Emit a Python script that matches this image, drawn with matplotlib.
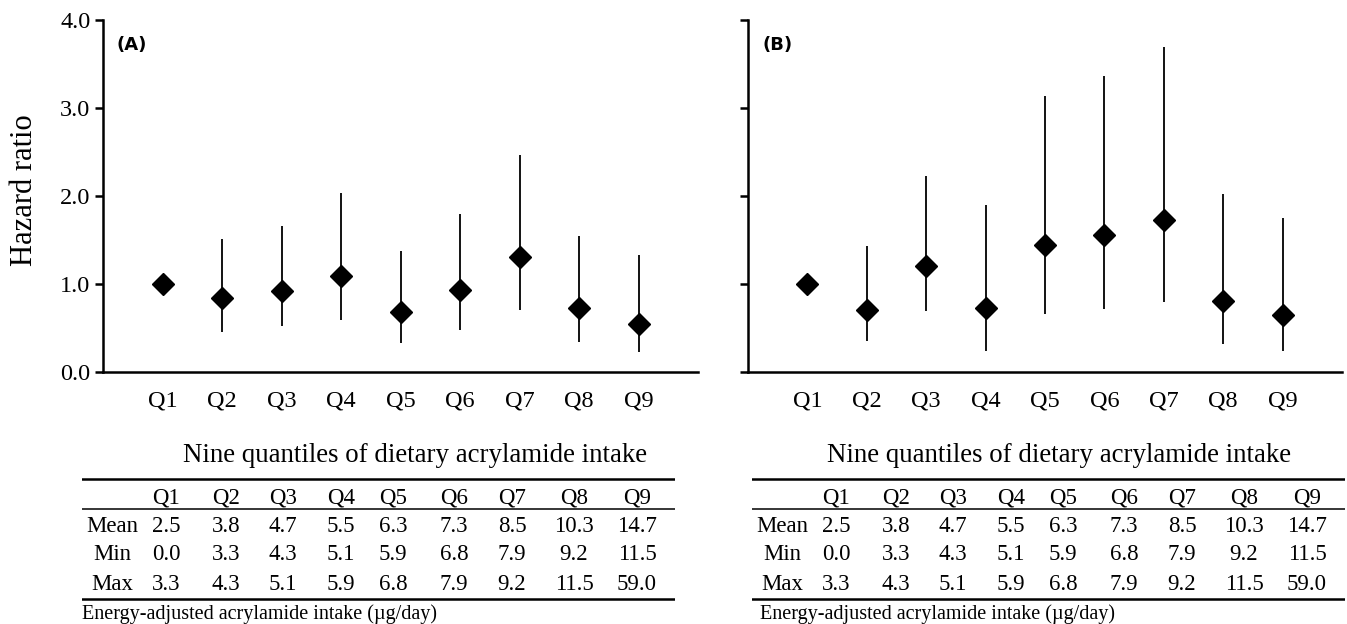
import numpy as np
import matplotlib
matplotlib.use("Agg")
import matplotlib.pyplot as plt

plt.rcParams['font.family'] = ['Liberation Serif', 'DejaVu Serif']

# ---------------- data ----------------
quantiles = ["Q1", "Q2", "Q3", "Q4", "Q5", "Q6", "Q7", "Q8", "Q9"]
yticks = [0.0, 1.0, 2.0, 3.0, 4.0]

hr_a = [1.00, 0.84, 0.92, 1.09, 0.68, 0.93, 1.31, 0.73, 0.54]
lo_a = [1.00, 0.46, 0.52, 0.59, 0.33, 0.48, 0.70, 0.34, 0.23]
hi_a = [1.00, 1.51, 1.66, 2.03, 1.38, 1.79, 2.47, 1.55, 1.33]

hr_b = [1.00, 0.70, 1.21, 0.73, 1.44, 1.56, 1.73, 0.81, 0.65]
lo_b = [1.00, 0.35, 0.69, 0.24, 0.66, 0.72, 0.80, 0.32, 0.24]
hi_b = [1.00, 1.43, 2.23, 1.90, 3.14, 3.36, 3.69, 2.02, 1.75]

row_labels = ["Mean", "Min", "Max"]
intake_mean = [2.5, 3.8, 4.7, 5.5, 6.3, 7.3, 8.5, 10.3, 14.7]
intake_min = [0.0, 3.3, 4.3, 5.1, 5.9, 6.8, 7.9, 9.2, 11.5]
intake_max = [3.3, 4.3, 5.1, 5.9, 6.8, 7.9, 9.2, 11.5, 59.0]

table_title = "Nine quantiles of dietary acrylamide intake"
table_note = "Energy-adjusted acrylamide intake (\u00b5g/day)"

W, H = 1347, 624
fig = plt.figure(figsize=(W / 100, H / 100), dpi=100)


def fx(px):
    return px / W


def fy(py):
    return 1 - py / H


def draw_panel(left_px, right_px, hr, lo, hi, label, show_labels):
    ax = fig.add_axes([fx(left_px), fy(372), fx(right_px - left_px), (372 - 20) / H])
    x = np.arange(1, len(quantiles) + 1)
    hr = np.asarray(hr); lo = np.asarray(lo); hi = np.asarray(hi)
    ax.vlines(x, lo, hi, color='black', lw=1.3, zorder=2)
    ax.plot(x, hr, linestyle='none', marker='D', ms=11.5, color='black', zorder=3)
    ax.set_xlim(0, 10)
    ax.set_ylim(0, 4)
    ax.set_xticks(x)
    ax.set_xticklabels(quantiles, fontsize=17.5)
    ax.set_yticks(yticks)
    if show_labels:
        ax.set_yticklabels([f"{v:.1f}" for v in yticks], fontsize=17.5)
    else:
        ax.set_yticklabels([])
    for s in ['top', 'right']:
        ax.spines[s].set_visible(False)
    for s in ['left', 'bottom']:
        ax.spines[s].set_linewidth(1.8)
    ax.tick_params(axis='x', length=0, pad=13)
    ax.tick_params(axis='y', length=6, width=1.8, pad=3, direction='out')
    ax.text(14 / (right_px - left_px), 1 - 25 / 352, label, transform=ax.transAxes,
            fontsize=13, fontweight='bold', family='DejaVu Sans', va='center', ha='left')
    return ax


def draw_table(left_px, title_off, note_off):
    width = 593
    ax = fig.add_axes([fx(left_px), 0, fx(width), (624 - 440) / H])
    ax.set_xlim(0, width)
    ax.set_ylim(184, 0)
    ax.axis('off')
    col_x = [30, 84, 144, 201, 259, 311, 372, 430, 492, 555]
    ax.text(title_off, 16, table_title, fontsize=19.4, ha='left', va='center')
    ax.axhline(39, color='black', lw=1.8)
    ax.axhline(69, color='black', lw=1.1)
    ax.axhline(159, color='black', lw=1.8)
    for i, q in enumerate(quantiles):
        ax.text(col_x[i + 1], 58, q, fontsize=16.5, ha='center', va='center')
    rows = [intake_mean, intake_min, intake_max]
    ys = [86, 115, 144]
    for lab, vals, yy in zip(row_labels, rows, ys):
        ax.text(col_x[0], yy, lab, fontsize=16.5, ha='center', va='center')
        for i, v in enumerate(vals):
            ax.text(col_x[i + 1], yy, f"{v:.1f}", fontsize=16.5, ha='center', va='center')
    ax.text(note_off, 174, table_note, fontsize=14.5, ha='left', va='center')


draw_panel(103, 698, hr_a, lo_a, hi_a, "(A)", True)
draw_panel(748, 1342, hr_b, lo_b, hi_b, "(B)", False)
fig.text(fx(25), fy(190), "Hazard ratio", rotation=90, fontsize=22, ha='center', va='center')

draw_table(82, 101, 0)
draw_table(752, 75, 8)

fig.savefig("out.png", dpi=100)
